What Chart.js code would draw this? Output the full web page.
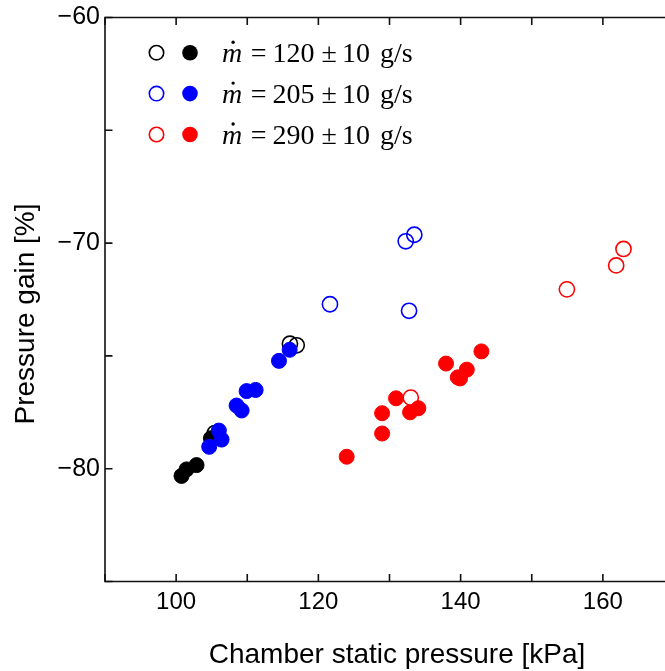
<!DOCTYPE html>
<html><head><meta charset="utf-8">
<script src="https://cdn.jsdelivr.net/npm/chart.js@4.4.1/dist/chart.umd.min.js"></script>
<style>
html,body{margin:0;padding:0;background:#fff;overflow:hidden;width:665px;height:671px;}
#wrap{width:674px;height:671px;position:relative;background:#fff;}
#c{display:block;}
</style></head><body>
<div id="wrap"><canvas id="c" width="674" height="671" style="width:674px;height:671px"></canvas></div>
<script>
// ---- data (kPa, %) ----
const blackOpenX  = [116.0, 116.95, 105.45];
const blackOpenY  = [-74.46, -74.53, -78.42];
const blackFillX  = [100.76, 101.47, 102.87, 104.89];
const blackFillY  = [-80.32, -80.03, -79.84, -78.65];
const blueOpenX   = [121.63, 132.28, 133.49, 132.75];
const blueOpenY   = [-72.71, -69.92, -69.63, -73.0];
const blueFillX   = [104.65, 106.01, 106.39, 108.50, 109.21, 109.91, 111.18, 114.46, 115.96];
const blueFillY   = [-79.03, -78.31, -78.71, -77.20, -77.42, -76.56, -76.51, -75.22, -74.73];
const redOpenX    = [162.90, 161.87, 154.94, 132.99];
const redOpenY    = [-70.26, -70.99, -72.05, -76.85];
const redFillX    = [142.92, 137.95, 140.87, 139.92, 139.6, 130.92, 128.96, 132.89, 134.06, 128.96, 123.98];
const redFillY    = [-74.80, -75.34, -75.61, -76.00, -75.95, -76.88, -77.54, -77.50, -77.32, -78.44, -79.47];
const legendRates = ['120', '205', '290'];
const legendTol   = '10';
const seriesColors = ['#000000', '#0000ff', '#ff0000'];
const xTitle = 'Chamber static pressure [kPa]';
const yTitle = 'Pressure gain [%]';
const xMin = 90, xMax = 170, xStep = 10, xLabelStep = 20;
const yMin = -85, yMax = -60, yStep = 5, yLabelStep = 10;

function pts(xs, ys){ return xs.map((x,i)=>({x:x, y:ys[i]})); }
function openDs(xs, ys, col, ord){
  return {data:pts(xs,ys), pointRadius:7.6, pointHoverRadius:7.6, pointBorderWidth:1.6,
    pointBackgroundColor:'rgba(255,255,255,0)', pointBorderColor:col, showLine:false, order:ord};
}
function fillDs(xs, ys, col, ord){
  return {data:pts(xs,ys), pointRadius:7.5, pointHoverRadius:7.5, pointBorderWidth:1,
    pointBackgroundColor:col, pointBorderColor:col, showLine:false, order:ord};
}

const framePlugin = {
  id:'frame',
  beforeDatasetsDraw(chart){
    const ctx = chart.ctx, a = chart.chartArea;
    const xs = chart.scales.x, ys = chart.scales.y;
    ctx.save();
    ctx.strokeStyle = '#111';
    ctx.lineWidth = 1.6;
    ctx.beginPath();
    ctx.rect(a.left, a.top, a.right - a.left, a.bottom - a.top);
    ctx.stroke();
    const tl = 7.5;
    ctx.beginPath();
    xs.ticks.forEach(t=>{
      const p = xs.getPixelForValue(t.value);
      ctx.moveTo(p, a.bottom); ctx.lineTo(p, a.bottom - tl);
      ctx.moveTo(p, a.top); ctx.lineTo(p, a.top + tl);
    });
    ys.ticks.forEach(t=>{
      const p = ys.getPixelForValue(t.value);
      ctx.moveTo(a.left, p); ctx.lineTo(a.left + tl, p);
      ctx.moveTo(a.right, p); ctx.lineTo(a.right - tl, p);
    });
    ctx.stroke();
    ctx.restore();
  },
  afterDraw(chart){
    const ctx = chart.ctx;
    ctx.save();
    // axis titles
    ctx.fillStyle = '#000';
    ctx.font = '28px "Liberation Sans", Arial, sans-serif';
    ctx.textAlign = 'center';
    ctx.textBaseline = 'alphabetic';
    ctx.fillText(xTitle, 397, 663);
    ctx.save();
    ctx.translate(34, 314);
    ctx.rotate(-Math.PI/2);
    ctx.fillText(yTitle, 0, 0);
    ctx.restore();
    // legend
    const base0 = 61.7, step = 40.9;
    legendRates.forEach((r, i)=>{
      const b = base0 + i*step;
      const cy = b - 9;
      const col = seriesColors[i];
      ctx.lineWidth = 1.6;
      ctx.strokeStyle = col;
      ctx.beginPath(); ctx.arc(156.5, cy, 7.2, 0, Math.PI*2); ctx.stroke();
      ctx.fillStyle = col;
      ctx.beginPath(); ctx.arc(190, cy, 7.8, 0, Math.PI*2); ctx.fill();
      ctx.fillStyle = '#000';
      ctx.textAlign = 'left';
      ctx.textBaseline = 'alphabetic';
      ctx.font = 'italic 28px "Liberation Serif", "Times New Roman", serif';
      let x = 222;
      ctx.fillText('m', x, b);
      const mw = ctx.measureText('m').width;
      ctx.beginPath(); ctx.arc(x + mw*0.55, b - 19.5, 1.7, 0, Math.PI*2); ctx.fill();
      x += mw + 8.5;
      ctx.font = '28px "Liberation Serif", "Times New Roman", serif';
      const parts = [['=', 6], [r, 7], ['\u00b1', 5], [legendTol, 10], ['g/s', 0]];
      parts.forEach(([s, g])=>{
        ctx.fillText(s, x, b);
        x += ctx.measureText(s).width + g;
      });
    });
    ctx.restore();
  }
};

const xTickFont = {family:'"Liberation Sans", Arial, sans-serif', size:24, lineHeight:1};
const yTickFont = {family:'"Liberation Sans", Arial, sans-serif', size:25, lineHeight:1};

new Chart(document.getElementById('c'), {
  type:'scatter',
  data:{datasets:[
    openDs(blackOpenX, blackOpenY, seriesColors[0], 6),
    openDs(blueOpenX, blueOpenY, seriesColors[1], 5),
    openDs(redOpenX, redOpenY, seriesColors[2], 4),
    fillDs(blackFillX, blackFillY, seriesColors[0], 3),
    fillDs(blueFillX, blueFillY, seriesColors[1], 2),
    fillDs(redFillX, redFillY, seriesColors[2], 1)
  ]},
  options:{
    responsive:false, maintainAspectRatio:false, animation:false, devicePixelRatio:1,
    layout:{autoPadding:false, padding:{top:12.5, right:0, left:0, bottom:0}},
    plugins:{legend:{display:false}, tooltip:{enabled:false}},
    events:[],
    scales:{
      x:{type:'linear', position:'bottom', min:xMin, max:xMax,
        ticks:{stepSize:xStep, autoSkip:false, maxRotation:0, minRotation:0, padding:9, color:'#000', font:xTickFont,
          callback:v => (v % xLabelStep === 0 ? String(v) : '')},
        grid:{display:false, drawTicks:false}, border:{display:false},
        afterFit:s => { s.height = 89.5; s.paddingRight = 0; s.paddingLeft = 0; }},
      y:{type:'linear', position:'left', min:yMin, max:yMax,
        ticks:{stepSize:yStep, autoSkip:false, padding:5, color:'#000', font:yTickFont,
          callback:v => (v % yLabelStep === 0 ? '\u2212' + Math.abs(v) : '')},
        grid:{display:false, drawTicks:false}, border:{display:false},
        afterFit:s => { s.width = 105; }}
    }
  },
  plugins:[framePlugin]
});
</script>
</body></html>
